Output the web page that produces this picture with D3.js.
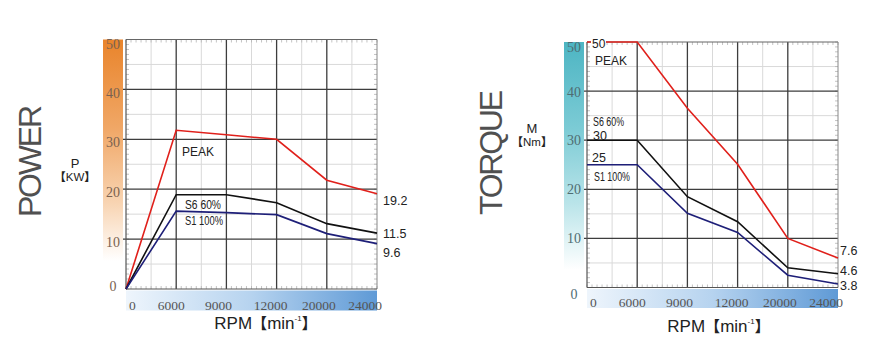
<!DOCTYPE html>
<html><head><meta charset="utf-8">
<script src="https://cdn.jsdelivr.net/npm/d3@7/dist/d3.min.js"></script>
<style>
html,body{margin:0;padding:0;background:#fff;}
svg{display:block;}
</style></head>
<body>
<svg id="chart" width="874" height="355"></svg>
<script>
// ---- data ----
const rpmLabels = ["0", "6000", "9000", "12000", "20000", "24000"];
const yTicks = [0, 10, 20, 30, 40, 50];

const powerPeak = [0, 31.8, 30.9, 30.0, 21.8, 19.1];
const powerS6 = [0, 18.9, 18.9, 17.3, 13.1, 11.2];
const powerS1 = [0, 15.6, 15.3, 14.9, 11.1, 9.1];
const powerEndLabels = ["19.2", "11.5", "9.6"];

const torquePeak = [50, 50, 36.5, 25.1, 10.0, 6.0];
const torqueS6 = [30, 30, 18.5, 13.4, 4.0, 2.8];
const torqueS1 = [25, 25, 15.1, 11.2, 2.5, 0.7];
const torqueEndLabels = ["7.6", "4.6", "3.8"];

const seriesNames = ["PEAK", "S6 60%", "S1 100%"];
const seriesColors = ["#e0201b", "#111111", "#1e1f78"];

// ---- drawing ----
const svg = d3.select("#chart");
const defs = svg.append("defs");

function vGrad(id, stops) {
  const g = defs.append("linearGradient").attr("id", id)
    .attr("x1", 0).attr("y1", 0).attr("x2", 0).attr("y2", 1);
  stops.forEach(s => g.append("stop").attr("offset", s[0]).attr("stop-color", s[1]));
}
function hGrad(id, stops) {
  const g = defs.append("linearGradient").attr("id", id)
    .attr("x1", 0).attr("y1", 0).attr("x2", 1).attr("y2", 0);
  stops.forEach(s => g.append("stop").attr("offset", s[0]).attr("stop-color", s[1]));
}
vGrad("gOrange", [["0%", "#e9842b"], ["35%", "#f0a766"], ["65%", "#f8d4b2"], ["88%", "#ffffff"], ["100%", "#ffffff"]]);
vGrad("gTeal", [["0%", "#4db5c3"], ["35%", "#7ccbd5"], ["65%", "#b9e4e9"], ["92%", "#ffffff"], ["100%", "#ffffff"]]);
hGrad("gBlue", [["0%", "#eef5fc"], ["50%", "#b6d3ef"], ["100%", "#5f9ad6"]]);

const xLabelOffsets = [3, -5, -8, -6, -8, -12];

function drawChart(cfg) {
  const g = svg.append("g");
  const x = d3.scaleLinear().domain([0, rpmLabels.length - 1]).range([cfg.left, cfg.right]);
  const y = d3.scaleLinear().domain([0, 50]).range([cfg.bottom, cfg.top]);

  // left gradient bar
  g.append("rect").attr("x", cfg.barX).attr("y", cfg.top).attr("width", cfg.barW)
    .attr("height", cfg.bottom - cfg.top + 2).attr("fill", `url(#${cfg.grad})`);
  // bottom gradient bar
  g.append("rect").attr("x", cfg.left).attr("y", cfg.bottom + 1.5).attr("width", cfg.right - cfg.left)
    .attr("height", cfg.bBarH).attr("fill", "url(#gBlue)");

  // minor grid
  const minorY = d3.range(5, 50, 10);
  g.selectAll(null).data(minorY).join("line")
    .attr("x1", cfg.left).attr("x2", cfg.right).attr("y1", d => y(d)).attr("y2", d => y(d))
    .attr("stroke", "#d9d9d9").attr("stroke-width", 1);
  const minorX = d3.range(0.5, rpmLabels.length - 1, 1);
  g.selectAll(null).data(minorX).join("line")
    .attr("x1", d => x(d)).attr("x2", d => x(d)).attr("y1", cfg.top).attr("y2", cfg.bottom)
    .attr("stroke", "#d9d9d9").attr("stroke-width", 1);

  // small edge ticks
  const stepsX = d3.range(0, rpmLabels.length - 1 + 0.001, 0.1);
  const stepsY = d3.range(0, 50.001, 1);
  const tk = g.append("g").attr("stroke", "#b5b5b5").attr("stroke-width", 0.8);
  stepsX.forEach(v => {
    tk.append("line").attr("x1", x(v)).attr("x2", x(v)).attr("y1", cfg.top).attr("y2", cfg.top + 3);
    tk.append("line").attr("x1", x(v)).attr("x2", x(v)).attr("y1", cfg.bottom).attr("y2", cfg.bottom - 3);
  });
  stepsY.forEach(v => {
    tk.append("line").attr("x1", cfg.left).attr("x2", cfg.left + 3).attr("y1", y(v)).attr("y2", y(v));
    tk.append("line").attr("x1", cfg.right).attr("x2", cfg.right - 3).attr("y1", y(v)).attr("y2", y(v));
  });

  // major grid
  g.selectAll(null).data(yTicks.slice(1, -1)).join("line")
    .attr("x1", cfg.left - 3).attr("x2", cfg.right).attr("y1", d => y(d)).attr("y2", d => y(d))
    .attr("stroke", "#3d3d3d").attr("stroke-width", 1.3);
  g.selectAll(null).data(d3.range(1, rpmLabels.length - 1)).join("line")
    .attr("x1", d => x(d)).attr("x2", d => x(d)).attr("y1", cfg.top).attr("y2", cfg.bottom)
    .attr("stroke", "#3d3d3d").attr("stroke-width", 1.3);
  // border
  g.append("line").attr("x1", cfg.left).attr("x2", cfg.right).attr("y1", cfg.top).attr("y2", cfg.top)
    .attr("stroke", "#666").attr("stroke-width", 1.2);
  g.append("line").attr("x1", cfg.right).attr("x2", cfg.right).attr("y1", cfg.top).attr("y2", cfg.bottom)
    .attr("stroke", "#888").attr("stroke-width", 1);
  g.append("line").attr("x1", cfg.left).attr("x2", cfg.left).attr("y1", cfg.top).attr("y2", cfg.bottom)
    .attr("stroke", "#555").attr("stroke-width", 1.2);
  g.append("line").attr("x1", cfg.left).attr("x2", cfg.right).attr("y1", cfg.bottom).attr("y2", cfg.bottom)
    .attr("stroke", "#555").attr("stroke-width", 1.2);

  // y tick labels
  g.selectAll(null).data(yTicks).join("text")
    .attr("x", cfg.barX + cfg.barW / 2).attr("y", d => y(d) + (cfg.yLabOff[d] !== undefined ? cfg.yLabOff[d] : 3))
    .attr("dominant-baseline", "central")
    .attr("text-anchor", "middle")
    .attr("font-family", "'Liberation Serif', 'DejaVu Serif', serif").attr("font-size", 14)
    .attr("fill", cfg.yLabColor).text(d => d);

  // x tick labels
  g.selectAll(null).data(rpmLabels).join("text")
    .attr("x", (d, i) => x(i) + xLabelOffsets[i]).attr("y", cfg.bottom + cfg.xLabDy)
    .attr("text-anchor", (d, i) => i === 0 ? "start" : "middle")
    .attr("font-family", "'Liberation Serif', 'DejaVu Serif', serif").attr("font-size", 13.5)
    .attr("fill", "#555").text(d => d);

  // lines
  const line = d3.line().x((d, i) => x(i)).y(d => y(d));
  cfg.series.forEach((s, k) => {
    g.append("path").datum(s).attr("d", line).attr("fill", "none")
      .attr("stroke", seriesColors[k]).attr("stroke-width", 1.6).attr("stroke-linejoin", "miter");
  });

  // end labels
  cfg.endLabels.forEach((t, k) => {
    g.append("text").attr("x", cfg.right + cfg.endDx).attr("y", cfg.endY[k])
      .attr("font-family", "'Liberation Sans', Arial, sans-serif").attr("font-size", 12.5)
      .attr("fill", "#222").text(t);
  });

  // inner labels
  cfg.inner.forEach(l => {
    const t = g.append("text").attr("x", l.x).attr("y", l.y)
      .attr("font-family", "'Liberation Sans', sans-serif")
      .attr("font-size", l.size || 12).attr("fill", "#222").text(l.t);
    if (l.w) t.attr("textLength", l.w).attr("lengthAdjust", "spacingAndGlyphs");
  });

  // big vertical title
  g.append("text").attr("transform", `translate(${cfg.titleX},${cfg.titleY}) rotate(-90)`)
    .attr("text-anchor", "middle")
    .attr("font-family", "'Liberation Sans', Arial, sans-serif").attr("font-size", 32)
    .attr("fill", "#505050").attr("textLength", cfg.titleLen).attr("lengthAdjust", "spacing")
    .text(cfg.title);

  // unit label
  g.append("text").attr("x", cfg.unitX).attr("y", cfg.unitY).attr("text-anchor", "middle")
    .attr("font-family", "'Liberation Sans', sans-serif").attr("font-size", 13).attr("fill", "#222")
    .text(cfg.unitSym);
  const u = g.append("text").attr("x", cfg.unitX).attr("y", cfg.unitY + 13).attr("text-anchor", "middle")
    .attr("font-family", "'Liberation Sans', 'Noto Sans CJK SC', sans-serif").attr("font-size", 11.5).attr("fill", "#222");
  u.append("tspan").attr("font-family", "'Noto Sans CJK SC'").attr("font-weight", "bold").text("【");
  u.append("tspan").text(cfg.unit);
  u.append("tspan").attr("font-family", "'Noto Sans CJK SC'").attr("font-weight", "bold").text("】");

  // RPM axis title
  const r = g.append("text").attr("x", (cfg.left + cfg.right) / 2 + cfg.rpmDx).attr("y", cfg.rpmY)
    .attr("text-anchor", "middle")
    .attr("font-family", "'Liberation Sans', Arial, sans-serif").attr("font-size", 17).attr("fill", "#222");
  r.append("tspan").text("RPM");
  r.append("tspan").attr("font-family", "'Noto Sans CJK SC'").attr("font-weight", "bold").attr("font-size", 15).text("【");
  r.append("tspan").text("min");
  r.append("tspan").attr("font-size", 8).attr("dy", -8).text("-1");
  r.append("tspan").attr("dy", 8).attr("font-family", "'Noto Sans CJK SC'").attr("font-weight", "bold").attr("font-size", 15).text("】");
}

drawChart({
  left: 126, right: 377, top: 39.5, bottom: 289,
  barX: 103, barW: 20, grad: "gOrange", bBarH: 20,
  yLabColor: "#7a6250", yLabOff: {0: -3, 50: 5, 40: 4, 30: 3, 20: 3, 10: 3},
  xLabDy: 21,
  series: [powerPeak, powerS6, powerS1],
  endLabels: powerEndLabels, endDx: 6, endY: [205, 238, 257],
  inner: [
    {t: "PEAK", x: 182, y: 155.5},
    {t: "S6 60%", x: 185, y: 208.5, size: 13, w: 36},
    {t: "S1 100%", x: 185, y: 225, size: 13, w: 38}
  ],
  title: "POWER", titleX: 41, titleY: 161, titleLen: 112,
  unitSym: "P", unitX: 75, unitY: 168, unit: "KW",
  rpmDx: 14, rpmY: 329
});

drawChart({
  left: 587, right: 838, top: 42, bottom: 287.5,
  barX: 564, barW: 20, grad: "gTeal", bBarH: 19,
  yLabColor: "#4f6d72", yLabOff: {0: 7, 50: 5, 40: 1, 30: 0, 20: 0, 10: 0},
  xLabDy: 19,
  series: [torquePeak, torqueS6, torqueS1],
  endLabels: torqueEndLabels, endDx: 2, endY: [254.5, 274.5, 289.5],
  inner: [
    {t: "PEAK", x: 595, y: 65},
    {t: "S6 60%", x: 593, y: 125.5, size: 12.5, w: 31},
    {t: "30", x: 593, y: 140, size: 12.5},
    {t: "25", x: 592, y: 162, size: 12.5},
    {t: "S1 100%", x: 594, y: 180.5, size: 13, w: 36}
  ],
  title: "TORQUE", titleX: 502, titleY: 152.5, titleLen: 125,
  unitSym: "M", unitX: 532, unitY: 133, unit: "Nm",
  rpmDx: 6, rpmY: 332
});

// "50" label on torque chart sits over the peak line start, with a white patch behind it
{
  const gx = d3.scaleLinear().domain([0, rpmLabels.length - 1]).range([587, 838]);
  const gy = d3.scaleLinear().domain([0, 50]).range([287.5, 42]);
  const t = svg.append("g");
  t.append("rect").attr("x", gx(0) + 4).attr("y", gy(torquePeak[0]) - 6).attr("width", 15).attr("height", 12).attr("fill", "#fff");
  t.append("text").attr("x", gx(0) + 5).attr("y", gy(torquePeak[0]) + 5.5)
    .attr("font-family", "'Liberation Sans', sans-serif").attr("font-size", 12).attr("fill", "#222")
    .text(String(torquePeak[0]));
}
</script>
</body></html>
